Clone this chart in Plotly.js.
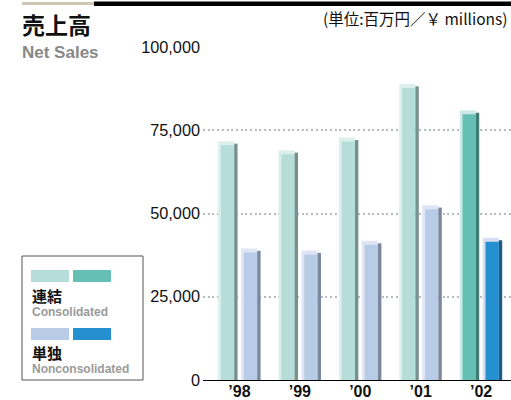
<!DOCTYPE html>
<html><head><meta charset="utf-8">
<script src="https://cdn.plot.ly/plotly-3.0.1.min.js"></script>
<style>html,body{margin:0;padding:0;background:#fff}#c{width:511px;height:400px}</style>
</head><body><div id="c"></div>
<script>
const categories = ["’98", "’99", "’00", "’01", "’02"];
const consolidated = [71700, 69000, 72800, 88900, 81000];
const nonconsolidated = [39500, 38900, 41800, 52500, 42700];
const yTickVals = [0, 25000, 50000, 75000, 100000];
const yTickText = ["0", "25,000", "50,000", "75,000", "100,000"];

const PX = 1 / 60.4;           // one pixel in category units
const CAP = 1200;              // depth of the 3D top cap (value units)
const xs = categories.map((_, i) => i);
const hl = categories.length - 1; // highlighted latest year

function pick(base, last) { return xs.map(i => i === hl ? last : base); }

function bar3d(vals, left, colors) {
  const strip = 2.8, face = 13.3, side = 3.4;
  return [
    { type: 'bar', x: xs, y: vals, offset: left * PX, width: (strip + face) * PX,
      marker: { color: colors.light, line: { width: 0 } }, hoverinfo: 'skip' },
    { type: 'bar', x: xs, y: vals.map(v => v - CAP), offset: (left + strip) * PX, width: face * PX,
      marker: { color: colors.face, line: { width: 0 } } },
    { type: 'bar', x: xs, y: vals.map(v => v - CAP * 0.6), offset: (left + strip + face) * PX, width: side * PX,
      marker: { color: colors.side, line: { width: 0 } }, hoverinfo: 'skip' }
  ];
}

const traces = [].concat(
  bar3d(consolidated, -21.4, {
    light: pick('#dcefed', '#cfe9e6'),
    face: pick('#b6ddda', '#66bfb5'),
    side: pick('#77918d', '#3f7c74')
  }),
  bar3d(nonconsolidated, 1.6, {
    light: pick('#dfe5f4', '#d4ddf1'),
    face: pick('#b8cce8', '#2590d0'),
    side: pick('#7b889c', '#1b5c88')
  })
);

const gray = '#9a9a9a';
const sans = '"Liberation Sans", Arial, Helvetica, sans-serif';
const cjk = '"Noto Sans CJK JP", "Noto Sans CJK SC", sans-serif';
const L = 203, W = 308, B = 380, H = 333;
const px = v => (v - L) / W;
const py = v => (B - v) / H;

const layout = {
  width: 511, height: 400,
  margin: { l: L, r: 0, t: 47, b: 20 },
  paper_bgcolor: '#fff', plot_bgcolor: '#fff',
  barmode: 'overlay',
  showlegend: false,
  xaxis: {
    range: [-0.604, 4.495], tickvals: xs, ticktext: categories,
    showgrid: false, zeroline: false, showline: true, linecolor: '#000', linewidth: 1,
    ticks: '', ticklabelstandoff: -3, tickfont: { family: sans, size: 16, color: '#111', weight: 'bold' },
    fixedrange: true
  },
  yaxis: {
    range: [0, 100000], tickvals: yTickVals, ticktext: yTickText,
    showgrid: true, gridcolor: '#b2bcc5', gridwidth: 2, griddash: '2px,2.7px',
    zeroline: false, showline: false, ticks: '', ticklabelstandoff: 2,
    tickfont: { family: sans, size: 16.3, color: '#111' },
    fixedrange: true
  },
  shapes: [
    { type: 'rect', xref: 'paper', yref: 'paper', x0: px(22), x1: px(94),
      y0: py(5), y1: py(2), line: { width: 0 }, fillcolor: '#cfc6b3' },
    { type: 'rect', xref: 'paper', yref: 'paper', x0: px(94), x1: 1,
      y0: py(6), y1: py(1.5), line: { width: 0 }, fillcolor: '#000' },
    // legend box
    { type: 'rect', xref: 'paper', yref: 'paper', x0: px(22), x1: px(143),
      y0: py(380), y1: py(256), line: { width: 1, color: '#555' }, fillcolor: '#fff' },
    { type: 'rect', xref: 'paper', yref: 'paper', x0: px(31), x1: px(69),
      y0: py(282), y1: py(270), line: { width: 0 }, fillcolor: '#b6ddda' },
    { type: 'rect', xref: 'paper', yref: 'paper', x0: px(73), x1: px(111),
      y0: py(282), y1: py(270), line: { width: 0 }, fillcolor: '#66bfb5' },
    { type: 'rect', xref: 'paper', yref: 'paper', x0: px(31), x1: px(69),
      y0: py(340), y1: py(328), line: { width: 0 }, fillcolor: '#b8cce8' },
    { type: 'rect', xref: 'paper', yref: 'paper', x0: px(73), x1: px(111),
      y0: py(340), y1: py(328), line: { width: 0 }, fillcolor: '#2590d0' }
  ],
  annotations: [
    { text: '<b>売上高</b>', xref: 'paper', yref: 'paper', x: px(20), y: py(24),
      xanchor: 'left', yanchor: 'middle', showarrow: false,
      font: { family: cjk, size: 23, color: '#111' } },
    { text: '<b>Net Sales</b>', xref: 'paper', yref: 'paper', x: px(20), y: py(52),
      xanchor: 'left', yanchor: 'middle', showarrow: false,
      font: { family: sans, size: 17, color: '#888' } },
    { text: '(単位:百万円／￥ millions)', xref: 'paper', yref: 'paper', x: px(321), y: py(18),
      xanchor: 'left', yanchor: 'middle', showarrow: false,
      font: { family: cjk, size: 15.5, color: '#111' } },
    { text: '<b>連結</b>', xref: 'paper', yref: 'paper', x: px(30), y: py(295),
      xanchor: 'left', yanchor: 'middle', showarrow: false,
      font: { family: cjk, size: 15, color: '#111' } },
    { text: '<b>Consolidated</b>', xref: 'paper', yref: 'paper', x: px(30), y: py(312),
      xanchor: 'left', yanchor: 'middle', showarrow: false,
      font: { family: sans, size: 12, color: gray } },
    { text: '<b>単独</b>', xref: 'paper', yref: 'paper', x: px(30), y: py(352),
      xanchor: 'left', yanchor: 'middle', showarrow: false,
      font: { family: cjk, size: 15, color: '#111' } },
    { text: '<b>Nonconsolidated</b>', xref: 'paper', yref: 'paper', x: px(30), y: py(369),
      xanchor: 'left', yanchor: 'middle', showarrow: false,
      font: { family: sans, size: 12, color: gray } }
  ]
};

Plotly.newPlot('c', traces, layout, { displayModeBar: false, staticPlot: true });
</script>
</body></html>
